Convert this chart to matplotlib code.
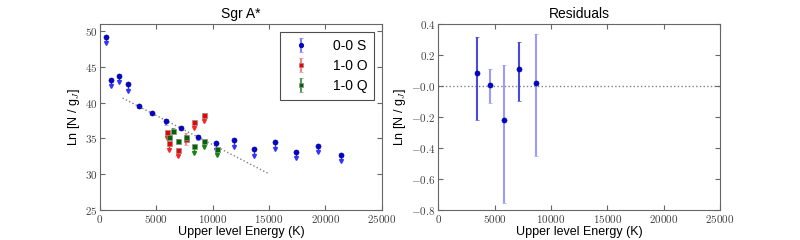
import numpy as np
import matplotlib
matplotlib.use("Agg")
import matplotlib.pyplot as plt
from matplotlib.ticker import FuncFormatter

plt.rcParams['font.family'] = ['Liberation Sans', 'DejaVu Sans']
plt.rcParams['mathtext.fontset'] = 'cm'

# 0-0 S : upper limits and detections
s_lim_x = [505, 1000, 1685, 2480, 10250, 11910, 13680, 15510, 17430, 19350, 21360]
s_lim_y = [49.2, 43.2, 43.8, 42.6, 34.35, 34.75, 33.5, 34.45, 33.1, 33.95, 32.75]
s_det_x = [3470, 4580, 5820, 7200, 8680]
s_det_y = [39.5, 38.55, 37.4, 36.5, 35.2]
s_err_lo = [0.30, 0.11, 0.54, 0.20, 0.47]
s_err_hi = [0.23, 0.10, 0.35, 0.17, 0.32]

# 1-0 O
o_lim_x = [5970, 6140, 6940, 8330, 9250]
o_lim_y = [35.95, 34.35, 33.4, 37.3, 38.3]
o_det_x = [7600]
o_det_y = [34.9]
o_err = [0.8]

# 1-0 Q
q_det_x = [6140, 6440, 6940, 7600]
q_det_y = [35.25, 36.1, 34.6, 35.25]
q_err = [0.3, 0.3, 0.3, 0.3]
q_lim_x = [8330, 9250, 10340]
q_lim_y = [33.9, 34.7, 33.55]

# fitted line
fit_x = [2000, 15000]
fit_y = [40.65, 30.05]

# residuals
res_x = [3470, 4580, 5820, 7200, 8680]
res_y = [0.085, 0.005, -0.217, 0.111, 0.02]
res_lo = [0.302, 0.112, 0.537, 0.205, 0.47]
res_hi = [0.229, 0.102, 0.352, 0.17, 0.315]
res_dark = [True, False, False, True, False]

ARROW = 0.9
MS = 3.6
BLUE = '#0000dd'
BLUE_EDGE = '#000077'


def upper_limits(ax, x, y, color, edge, arrow_color, marker):
    x = np.asarray(x)
    y = np.asarray(y)
    ax.vlines(x, y - ARROW, y, color=arrow_color, lw=1, zorder=2)
    ax.plot(x, y - ARROW, 'v', color=arrow_color, ms=2.8, mec=arrow_color, zorder=2)
    ax.plot(x, y, marker, color=color, ms=MS, mec=edge, mew=0.5, ls='none', zorder=3)


def style_axes(ax, fmt):
    for sp in ax.spines.values():
        sp.set_color('0.4')
    ax.tick_params(direction='in', top=True, right=True, length=3.5, pad=2,
                   color='0.4', labelsize=8, labelcolor='0.25')
    ax.xaxis.set_major_formatter(FuncFormatter(lambda v, p: r'$%d$' % v))
    ax.yaxis.set_major_formatter(FuncFormatter(fmt))


fig, (ax1, ax2) = plt.subplots(1, 2, figsize=(8, 2.4), dpi=100)
fig.subplots_adjust(left=0.125, right=0.9, bottom=0.125, top=0.9, wspace=0.2)

# left panel
ax1.plot(fit_x, fit_y, ls=':', color='0.5', lw=1, zorder=1)
upper_limits(ax1, s_lim_x, s_lim_y, BLUE, BLUE_EDGE, '#3333ff', 'o')
upper_limits(ax1, o_lim_x, o_lim_y, '#ee0000', '0.55', '#ff2222', 's')
upper_limits(ax1, q_lim_x, q_lim_y, '#006600', '0.55', '#118811', 's')
ax1.errorbar(s_det_x, s_det_y, yerr=[s_err_lo, s_err_hi], fmt='o', color=BLUE,
             ecolor='#8080ff', ms=MS, mec=BLUE_EDGE, mew=0.5, capsize=1.5, label='0-0 S', zorder=3)
ax1.errorbar(o_det_x, o_det_y, yerr=o_err, fmt='s', color='#ee0000',
             ecolor='#ff8080', ms=MS, mec='0.55', mew=0.5, capsize=1.5, label='1-0 O', zorder=3)
ax1.errorbar(q_det_x, q_det_y, yerr=q_err, fmt='s', color='#006600',
             ecolor='#55995a', ms=MS, mec='0.55', mew=0.5, capsize=1.5, label='1-0 Q', zorder=3)

ax1.set_xlim(0, 25000)
ax1.set_ylim(25, 51)
ax1.set_xticks(np.arange(0, 25001, 5000))
ax1.set_yticks(np.arange(25, 51, 5))
style_axes(ax1, lambda v, p: r'$%d$' % v)
ax1.set_xlabel('Upper level Energy (K)', fontsize=9, labelpad=1)
ax1.set_ylabel(r'Ln [N / g$_J$]', fontsize=9, labelpad=2)
ax1.set_title('Sgr A*', fontsize=10, pad=4)
leg = ax1.legend(loc='upper right', fontsize=10, fancybox=False, framealpha=1,
                 borderaxespad=0.55, handlelength=2.0, handletextpad=1.3,
                 borderpad=0.5, labelspacing=0.45, markerscale=0.9)
leg.get_frame().set_edgecolor('0.3')
leg.get_frame().set_linewidth(0.8)

# right panel
ax2.axhline(0, ls=':', color='0.5', lw=1, zorder=1)
for x, y, lo, hi, dark in zip(res_x, res_y, res_lo, res_hi, res_dark):
    ec = '#4a4ad8' if dark else '#9a9aff'
    ax2.errorbar([x], [y], yerr=[[lo], [hi]], fmt='o', color=BLUE, ecolor=ec,
                 ms=MS, mec=BLUE_EDGE, mew=0.5, capsize=1.5, zorder=3)
ax2.set_xlim(0, 25000)
ax2.set_ylim(-0.8, 0.4)
ax2.set_xticks(np.arange(0, 25001, 5000))
ax2.set_yticks(np.arange(-0.8, 0.41, 0.2))
style_axes(ax2, lambda v, p: r'$%.1f$' % v)
ax2.set_xlabel('Upper level Energy (K)', fontsize=9, labelpad=1)
ax2.set_ylabel(r'Ln [N / g$_J$]', fontsize=9, labelpad=2)
ax2.set_title('Residuals', fontsize=10, pad=4)

fig.savefig('out.png', dpi=100)
